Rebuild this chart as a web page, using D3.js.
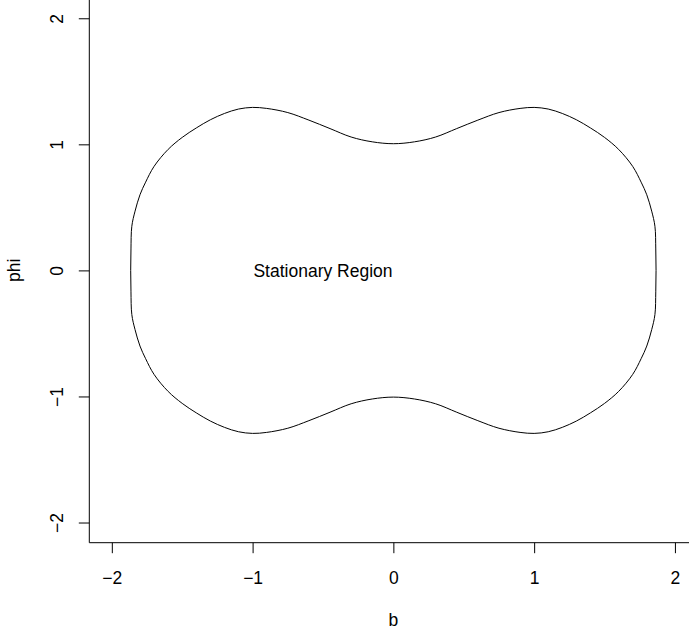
<!DOCTYPE html>
<html>
<head>
<meta charset="utf-8">
<script src="https://cdn.jsdelivr.net/npm/d3@7"></script>
<style>
  body { margin: 0; background: #fff; }
  text { font-family: "Liberation Sans", Arial, sans-serif; fill: #000; }
</style>
</head>
<body>
<div id="chart"></div>
<script>
// boundary of the stationary region
// upper half, left to right
const bUpper = [-1.866, -1.864, -1.858, -1.835, -1.8, -1.76, -1.7, -1.6, -1.5, -1.4, -1.3, -1.2, -1.1, -1.0, -0.9, -0.75, -0.6, -0.45, -0.3, -0.15, 0,
  0.15, 0.3, 0.45, 0.6, 0.75, 0.9, 1.0, 1.1, 1.2, 1.3, 1.4, 1.5, 1.6, 1.7, 1.76, 1.8, 1.835, 1.858, 1.864, 1.866]
const phiUpper = [0, 0.17, 0.35, 0.47, 0.6, 0.7, 0.825, 0.96, 1.055, 1.13, 1.195, 1.245, 1.28, 1.293, 1.285, 1.252, 1.192, 1.125, 1.058, 1.02, 1.005,
  1.02, 1.058, 1.125, 1.192, 1.252, 1.285, 1.293, 1.28, 1.245, 1.195, 1.13, 1.055, 0.96, 0.825, 0.7, 0.6, 0.47, 0.35, 0.17, 0]
// lower half, right to left
const bLower = [1.864, 1.858, 1.835, 1.8, 1.76, 1.7, 1.6, 1.5, 1.4, 1.3, 1.2, 1.1, 1.0, 0.9, 0.75, 0.6, 0.45, 0.3, 0.15, 0,
  -0.15, -0.3, -0.45, -0.6, -0.75, -0.9, -1.0, -1.1, -1.2, -1.3, -1.4, -1.5, -1.6, -1.7, -1.76, -1.8, -1.835, -1.858, -1.864]
const phiLower = [-0.17, -0.35, -0.47, -0.6, -0.7, -0.825, -0.96, -1.055, -1.13, -1.195, -1.245, -1.28, -1.293, -1.285, -1.252, -1.192, -1.125, -1.058, -1.02, -1.005,
  -1.02, -1.058, -1.125, -1.192, -1.252, -1.285, -1.293, -1.28, -1.245, -1.195, -1.13, -1.055, -0.96, -0.825, -0.7, -0.6, -0.47, -0.35, -0.17]

const xTicks = [-2, -1, 0, 1, 2]
const yTicks = [-2, -1, 0, 1, 2]
const regionLabel = "Stationary Region"

const w = 689
const h = 632
const fs = 17.5

const svg = d3.select('#chart')
  .append('svg')
  .attr('width', w)
  .attr('height', h)

svg.append('rect').attr('width', w).attr('height', h).attr('fill', '#fff')

const x = d3.scaleLinear().domain([-2.16, 2.1]).range([89.3, 689])
const y = d3.scaleLinear().domain([-2.16, 2.145]).range([542.7, 0])

// L shaped box
svg.append('path')
  .attr('d', `M${x.range()[0]},${y.range()[1]}V${y.range()[0]}H${x.range()[1]}`)
  .attr('fill', 'none')
  .attr('stroke', '#000')
  .attr('stroke-width', 1)

const xAxis = svg.append('g')
  .attr('transform', `translate(0,${y.range()[0]})`)
  .call(d3.axisBottom(x).tickValues(xTicks).tickSize(10.5).tickFormat(d => d < 0 ? '\u2212' + Math.abs(d) : d))
xAxis.select('.domain').remove()
xAxis.selectAll('line').attr('stroke', '#000')
xAxis.selectAll('text')
  .attr('y', 41.5)
  .attr('dy', 0)
  .attr('font-size', fs)
  .attr('font-family', '"Liberation Sans", Arial, sans-serif')
  .attr('fill', '#000')

const yAxis = svg.append('g')
  .attr('transform', `translate(${x.range()[0]},0)`)
  .call(d3.axisLeft(y).tickValues(yTicks).tickSize(10.5).tickFormat(d => d < 0 ? '\u2212' + Math.abs(d) : d))
yAxis.select('.domain').remove()
yAxis.selectAll('line').attr('stroke', '#000')
yAxis.selectAll('text')
  .attr('transform', 'rotate(-90)')
  .attr('x', 0)
  .attr('y', -26.3)
  .attr('dy', 0)
  .attr('text-anchor', 'middle')
  .attr('font-size', fs)
  .attr('font-family', '"Liberation Sans", Arial, sans-serif')
  .attr('fill', '#000')

// axis titles
svg.append('text')
  .attr('x', x(0))
  .attr('y', 626)
  .attr('text-anchor', 'middle')
  .attr('font-size', fs)
  .text('b')

svg.append('text')
  .attr('transform', `translate(20,${y(0)}) rotate(-90)`)
  .attr('text-anchor', 'middle')
  .attr('font-size', fs)
  .text('phi')

// the boundary curve
const pts = bUpper.map((b, i) => [b, phiUpper[i]])
  .concat(bLower.map((b, i) => [b, phiLower[i]]))

const line = d3.line()
  .x(d => x(d[0]))
  .y(d => y(d[1]))
  .curve(d3.curveCatmullRomClosed.alpha(0.5))

svg.append('path')
  .datum(pts)
  .attr('d', line)
  .attr('fill', 'none')
  .attr('stroke', '#000')
  .attr('stroke-width', 1)

svg.append('text')
  .attr('x', x(-0.5))
  .attr('y', y(0))
  .attr('dy', '0.36em')
  .attr('text-anchor', 'middle')
  .attr('font-size', fs)
  .text(regionLabel)
</script>
</body>
</html>
